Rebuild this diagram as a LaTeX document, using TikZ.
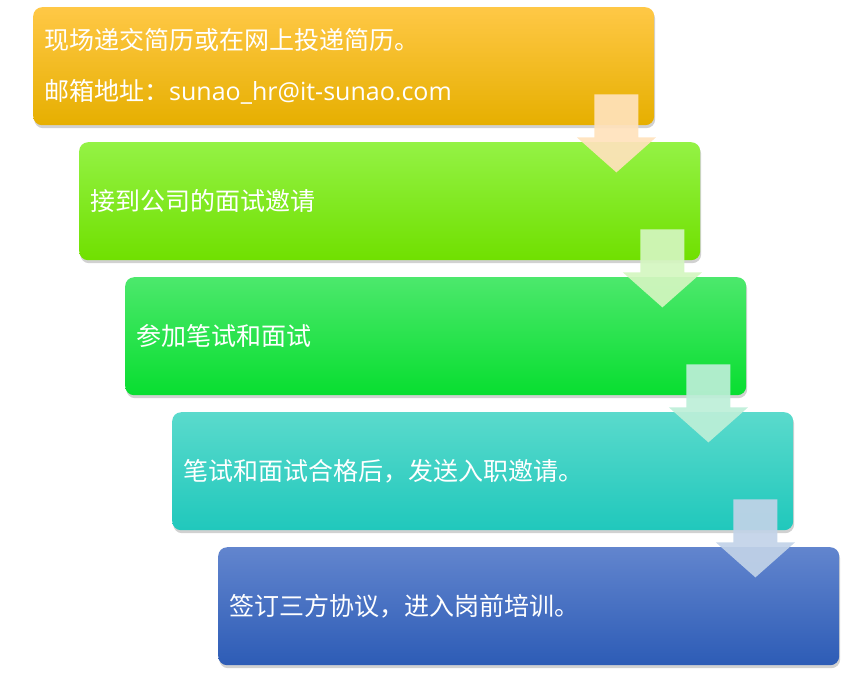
\documentclass[tikz,border=0pt]{standalone}
\usepackage{fontspec}
\newfontfamily\cjkfont{Noto Sans CJK SC}
\newfontfamily\latinfont{Open Sans}
\usetikzlibrary{shadows,calc}
\definecolor{oTop}{HTML}{FFC846}\definecolor{oMid}{HTML}{FFC000}\definecolor{oBot}{HTML}{E6AF00}
\definecolor{lTop}{HTML}{94F245}\definecolor{lMid}{HTML}{86FC04}\definecolor{lBot}{HTML}{70E000}
\definecolor{gTop}{HTML}{4CE86C}\definecolor{gMid}{HTML}{20E84A}\definecolor{gBot}{HTML}{08DE30}
\definecolor{tTop}{HTML}{5ADACC}\definecolor{tMid}{HTML}{34DACB}\definecolor{tBot}{HTML}{20C8BC}
\definecolor{bTop}{HTML}{6285CE}\definecolor{bMid}{HTML}{4470C8}\definecolor{bBot}{HTML}{2D5CB6}
\definecolor{arA}{HTML}{FFE2BC}\definecolor{arB}{HTML}{D4F6C0}
\definecolor{arC}{HTML}{BDEFD8}\definecolor{arD}{HTML}{C2D3E8}
\begin{document}
\begin{tikzpicture}[x=1pt,y=-1pt,
  box/.style={rounded corners=9pt, minimum height=118pt, text width=599pt,
    inner xsep=11pt, inner ysep=0pt, align=left, anchor=north west, text=white,
    font=\cjkfont\fontsize{25}{51}\selectfont,
    drop shadow={shadow xshift=1pt, shadow yshift=-3pt, opacity=0.3, fill=black!60}},
  flow/.style={opacity=0.92}]
\useasboundingbox (0,0) rectangle (853,697);
\node[box, top color=oTop, middle color=oMid, bottom color=oBot] (b1) at (33,7)
  {现场递交简历或在网上投递简历。\\邮箱地址：{\latinfont sunao\_hr@it-sunao.com}};
\node[box, top color=lTop, middle color=lMid, bottom color=lBot] (b2) at (79,142) {接到公司的面试邀请};
\node[box, top color=gTop, middle color=gMid, bottom color=gBot] (b3) at (125,277) {参加笔试和面试};
\node[box, top color=tTop, middle color=tMid, bottom color=tBot] (b4) at (172,412) {笔试和面试合格后，发送入职邀请。};
\node[box, top color=bTop, middle color=bMid, bottom color=bBot] (b5) at (218,547) {签订三方协议，进入岗前培训。};
\foreach \b/\c in {b1/arA, b2/arB, b3/arC, b4/arD}{
  \coordinate (a) at ($(\b.south east)+(-38,0)$);
  \fill[flow, fill=\c] ($(a)+(-22,-31)$) -- ($(a)+(22,-31)$) -- ($(a)+(22,12)$)
    -- ($(a)+(39.5,12)$) -- ($(a)+(0,47)$) -- ($(a)+(-39.5,12)$) -- ($(a)+(-22,12)$) -- cycle;
}
\end{tikzpicture}
\end{document}
